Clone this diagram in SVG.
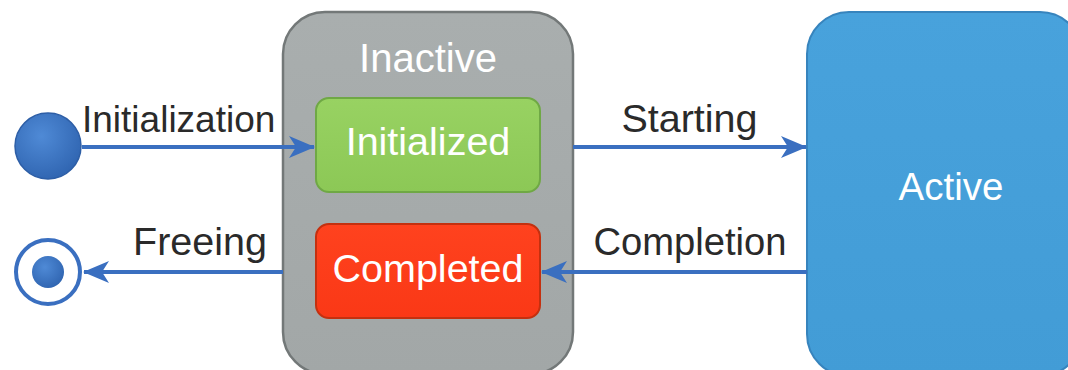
<svg xmlns="http://www.w3.org/2000/svg" width="1068" height="370" viewBox="0 0 1068 370">
<style>
.lbl{font-family:"Liberation Sans",Arial,sans-serif;font-size:37px;fill:#2a2a2a}
.wt{font-family:"Liberation Sans",Arial,sans-serif;font-size:39.5px;fill:#ffffff;text-anchor:middle}
.conn{stroke:#3a6fc0;stroke-width:4;fill:none}
</style>
<defs>
<marker id="ah" viewBox="0 0 26 22" refX="25" refY="11" markerWidth="26" markerHeight="22" markerUnits="userSpaceOnUse" orient="auto">
<path d="M0,0 L26,11 L0,22 L7,11 z" fill="#3a6fc0"/>
</marker>
<linearGradient id="gGray" x1="0" y1="0" x2="0" y2="1"><stop offset="0" stop-color="#a9aeae"/><stop offset="1" stop-color="#a2a7a7"/></linearGradient>
<linearGradient id="gGreen" x1="0" y1="0" x2="0" y2="1"><stop offset="0" stop-color="#98d262"/><stop offset="1" stop-color="#8cc856"/></linearGradient>
<linearGradient id="gRed" x1="0" y1="0" x2="0" y2="1"><stop offset="0" stop-color="#ff421e"/><stop offset="1" stop-color="#fa3816"/></linearGradient>
<linearGradient id="gBlue" x1="0" y1="0" x2="0" y2="1"><stop offset="0" stop-color="#48a2dc"/><stop offset="1" stop-color="#429cd6"/></linearGradient>
<radialGradient id="gDot" cx="0.4" cy="0.35" r="0.7"><stop offset="0" stop-color="#4f8ad6"/><stop offset="1" stop-color="#2f64b0"/></radialGradient>
</defs>

<g id="inactive">
<rect x="283" y="12" width="290" height="362" rx="42" fill="url(#gGray)" stroke="#737878" stroke-width="2.5"/>
<text class="wt" x="428" y="72" style="font-size:40px">Inactive</text>
</g>
<g id="initialized">
<rect x="316" y="98" width="224" height="94" rx="13" fill="url(#gGreen)" stroke="#6fa845" stroke-width="2"/>
<text class="wt" x="428" y="155">Initialized</text>
</g>
<g id="completed">
<rect x="316" y="224" width="224" height="94" rx="13" fill="url(#gRed)" stroke="#c4300f" stroke-width="2"/>
<text class="wt" x="428" y="282">Completed</text>
</g>
<g id="active">
<rect x="807" y="12" width="275" height="364" rx="42" fill="url(#gBlue)" stroke="#3784bd" stroke-width="2"/>
<text class="wt" x="951" y="200" style="font-size:38.5px">Active</text>
</g>
<g id="start">
<circle cx="48" cy="146" r="33" fill="url(#gDot)" stroke="#2d5ea6" stroke-width="1.5"/>
</g>
<g id="end">
<circle cx="48" cy="272" r="32" fill="#ffffff" stroke="#3a6fc0" stroke-width="4"/>
<circle cx="48" cy="272" r="16" fill="url(#gDot)"/>
</g>

<g id="connectors">
<line class="conn" x1="82" y1="147" x2="314" y2="147" marker-end="url(#ah)"/>
<line class="conn" x1="573" y1="147" x2="806" y2="147" marker-end="url(#ah)"/>
<line class="conn" x1="807" y1="272" x2="542" y2="272" marker-end="url(#ah)"/>
<line class="conn" x1="283" y1="272" x2="84" y2="272" marker-end="url(#ah)"/>
<text class="lbl" x="82" y="132">Initialization</text>
<text class="lbl" x="267" y="255" text-anchor="end" style="font-size:39.5px">Freeing</text>
<text class="lbl" x="689.5" y="132" text-anchor="middle" style="font-size:39.5px">Starting</text>
<text class="lbl" x="690" y="255" text-anchor="middle" style="font-size:38.2px">Completion</text>
</g>
</svg>
